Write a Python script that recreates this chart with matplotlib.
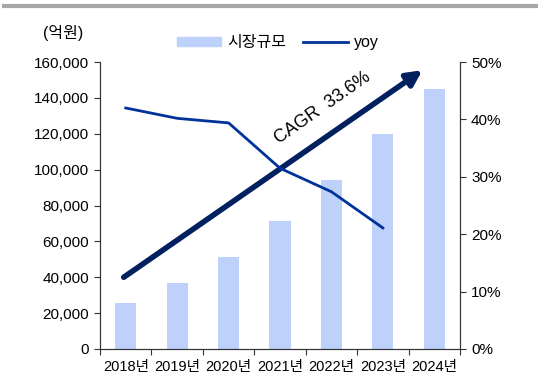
import matplotlib
matplotlib.use("Agg")
import matplotlib.pyplot as plt
from matplotlib.patches import Patch
from matplotlib.lines import Line2D

plt.rcParams['font.family'] = ['Liberation Sans Narrow', 'Liberation Sans', 'Noto Sans CJK KR']

# data
years = ['2018년', '2019년', '2020년', '2021년', '2022년', '2023년', '2024년']
market_size = [25600, 36800, 51300, 71300, 94200, 119800, 145000]
yoy = [42.0, 40.2, 39.4, 31.5, 27.4, 21.1]
cagr_label = 'CAGR  33.6%'

bar_color = '#BDD1FA'
line_color = '#003399'
arrow_color = '#002060'

fig = plt.figure(figsize=(5.38, 3.8), dpi=100)
ax = fig.add_axes([0.186, 0.0816, 0.669, 0.755])
ax2 = ax.twinx()

x = list(range(len(years)))
ax.bar(x, market_size, width=0.41, color=bar_color, zorder=1)
ax2.plot(x[:len(yoy)], yoy, color=line_color, lw=2, zorder=3)

ax.set_xlim(-0.5, 6.5)
ax.set_ylim(0, 160000)
ax.set_yticks(range(0, 160001, 20000))
ax.set_yticklabels([f'{v:,}' for v in range(0, 160001, 20000)])
ax2.set_ylim(0, 50)
ax2.set_yticks(range(0, 51, 10))
ax2.set_yticklabels([f'{v}%' for v in range(0, 51, 10)])

# x ticks at category boundaries, labels at centres
ax.set_xticks([i - 0.5 for i in range(len(years) + 1)])
ax.set_xticklabels([])
ax.set_xticks(x, minor=True)
ax.set_xticklabels(years, minor=True)

for a in (ax, ax2):
    a.spines['top'].set_visible(False)
    for s in a.spines.values():
        s.set_color('#333333')
    a.tick_params(which='both', labelsize=11, colors='#333333', labelcolor='black')
ax.tick_params(axis='x', which='minor', length=0, pad=8, labelsize=10.5)
ax.tick_params(axis='x', which='major', length=4, direction='out')
ax.tick_params(axis='y', length=4, pad=4)
ax2.tick_params(axis='y', length=4, pad=4)

# CAGR arrow
ax.annotate('', xy=(5.77, 155500), xytext=(-0.04, 40000),
            arrowprops=dict(arrowstyle='-|>,head_length=0.9,head_width=0.45',
                            color=arrow_color, lw=4, shrinkA=0, shrinkB=0),
            zorder=4)
ax.text(3.82, 134500, cagr_label, rotation=35, fontsize=13,
        ha='center', va='center', rotation_mode='anchor')

fig.text(0.118, 0.913, '(억원)', fontsize=11.5, ha='center', va='center')

handles = [Patch(color=bar_color), Line2D([], [], color=line_color, lw=2)]
fig.legend(handles, ['시장규모', 'yoy'], loc='center', bbox_to_anchor=(0.516, 0.887),
           ncol=2, frameon=False, fontsize=11.5, handlelength=2.8,
           handleheight=0.45, columnspacing=1.1, handletextpad=0.35)

# grey rule at the top
fig.add_artist(Line2D([0.008, 1.0], [0.984, 0.984], color='#A6A6A6', lw=3,
                      transform=fig.transFigure))

fig.savefig('out.png', dpi=100)
